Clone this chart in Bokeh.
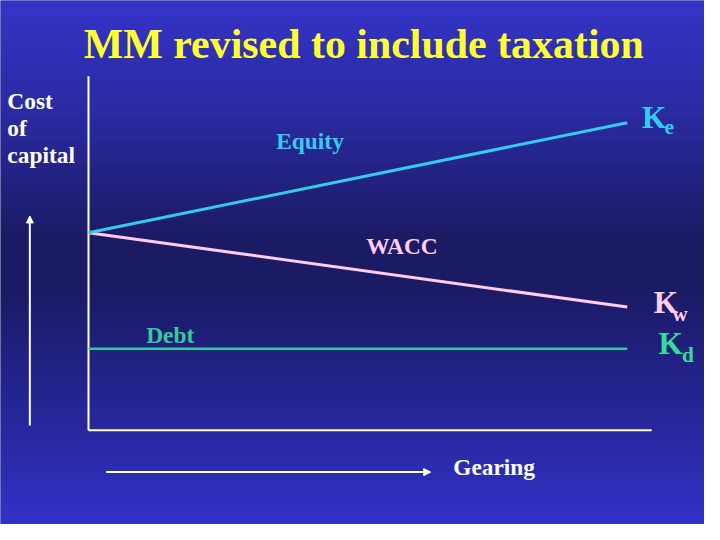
import numpy as np
from bokeh.plotting import figure
from bokeh.models import Range1d, Arrow, NormalHead
from bokeh.core.properties import value
from bokeh.embed import file_html
from bokeh.resources import INLINE

# ---- data (conceptual MM-with-tax chart) ----
gearing = [0.0, 1.0]
cost_equity = [9.7, 15.1]     # Ke rises with gearing
cost_wacc = [9.7, 6.05]       # Kw falls with gearing
cost_debt = [4.0, 4.0]        # Kd flat

title_text = "MM revised to include taxation"
ylabel_lines = ["Cost", "of", "capital"]
xlabel_text = "Gearing"

# ---- mapping helpers (reference pixel -> data units) ----
GX0, GXS = 90.0, 551.0
CY0, CYS = 443.0, 21.0
def X(px):
    return (px - GX0) / GXS
def Y(py):
    return (CY0 - py) / CYS

W, H = 704, 524
S = 0.974  # overall size scale of the page relative to the 720x540 reference
p = figure(width=W, height=H, output_backend="svg", toolbar_location=None,
           x_range=Range1d(X(0), X(720)), y_range=Range1d(Y(540), Y(0)),
           x_axis_type=None, y_axis_type=None, min_border=0, title=None)
p.outline_line_color = None
p.grid.visible = False
p.background_fill_color = "#1b1b66"
p.border_fill_color = "#1b1b66"

# ---- background gradient ----
rows = np.arange(H)
ref_y = (H - rows - 0.5) * 540.0 / H
stops_y = [0, 120, 245, 300, 420, 540]
r = np.interp(ref_y, stops_y, [52, 42, 27, 27, 38, 50])
g = np.interp(ref_y, stops_y, [52, 42, 27, 27, 38, 50])
b = np.interp(ref_y, stops_y, [200, 160, 100, 102, 150, 200])
img = np.empty((H, 2), dtype=np.uint32)
view = img.view(dtype=np.uint8).reshape((H, 2, 4))
for c in range(2):
    view[:, c, 0] = r.astype(np.uint8)
    view[:, c, 1] = g.astype(np.uint8)
    view[:, c, 2] = b.astype(np.uint8)
    view[:, c, 3] = 255
p.image_rgba(image=[img], x=X(0), y=Y(540), dw=X(720) - X(0), dh=Y(0) - Y(540))

font = value("Liberation Serif")

# ---- axes ----
axis_top = Y(78)
axis_right = X(666)
p.line([0, 0], [0, axis_top], line_color="white", line_width=2)
p.line([0, axis_right], [0, 0], line_color="white", line_width=2)

# ---- direction arrows ----
p.add_layout(Arrow(end=NormalHead(size=7, fill_color="white", line_color="white", line_width=1),
                   x_start=X(30), y_start=Y(438), x_end=X(30), y_end=Y(222),
                   line_color="white", line_width=2))
p.add_layout(Arrow(end=NormalHead(size=7, fill_color="white", line_color="white", line_width=1),
                   x_start=X(108), y_start=Y(486), x_end=X(440), y_end=Y(486),
                   line_color="white", line_width=2))

# ---- cost lines ----
C_EQ = "#33ccee"
C_WA = "#ffccee"
C_DE = "#33cc99"
p.line(gearing, cost_debt, line_color=C_DE, line_width=2.5)
p.line(gearing, cost_wacc, line_color=C_WA, line_width=3)
p.line(gearing, cost_equity, line_color=C_EQ, line_width=3)

def txt(x, y, s, color, size, align="left"):
    # size in reference px; shift baseline up to compensate renderer offset
    yb = y - 0.36 * size
    p.text(x=[X(x)], y=[Y(yb)], text=[s], text_color=color, text_font=font,
           text_font_style="bold", text_font_size=f"{size * S:.1f}px",
           text_align=align, text_baseline="alphabetic")

# title
txt(371.5, 60, title_text, "#ffff33", 43, align="center")
# y label
for s, by in zip(ylabel_lines, [112, 140, 168]):
    txt(7, by, s, "white", 24)
# x label
txt(463, 489, xlabel_text, "white", 24)
# line labels
txt(282, 153, "Equity", C_EQ, 24)
txt(374, 262, "WACC", C_WA, 24)
txt(149, 353, "Debt", C_DE, 24)
# K labels with subscripts
txt(656, 132, "K", C_EQ, 32)
txt(679, 138, "e", C_EQ, 22)
txt(668, 323, "K", C_WA, 32)
txt(687, 331, "w", C_WA, 22)
txt(673, 365, "K", "#33dd99", 32)
txt(697, 373, "d", "#33dd99", 22)

open("out.html", "w").write(file_html(p, INLINE))
